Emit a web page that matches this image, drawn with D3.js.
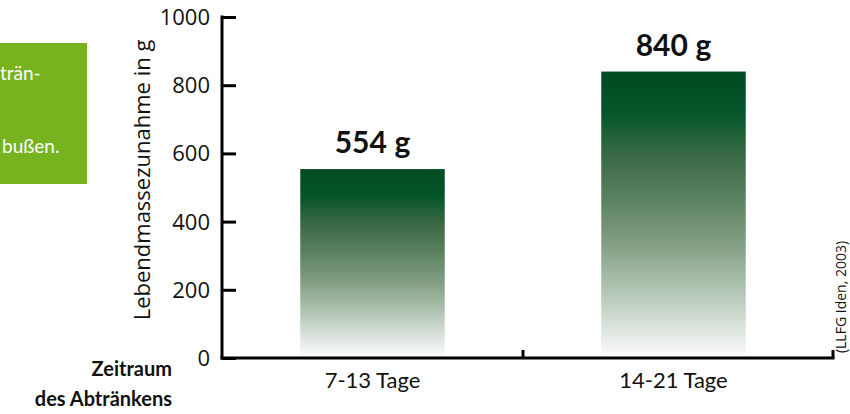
<!DOCTYPE html>
<html>
<head>
<meta charset="utf-8">
<script src="https://cdn.jsdelivr.net/npm/d3@7"></script>
<style>
  html, body { margin: 0; padding: 0; background: #fff; }
  svg { display: block; }
</style>
</head>
<body>
<svg id="chart" width="850" height="414"></svg>
<script>
const categories = ["7-13 Tage", "14-21 Tage"];
const values = [554, 840];
const valueLabels = ["554\u202Fg", "840\u202Fg"];
const yTicks = [0, 200, 400, 600, 800, 1000];
const yTitle = "Lebendmassezunahme in g";
const xTitleLines = ["Zeitraum", "des Abtränkens"];
const sourceText = "(LLFG Iden, 2003)";
const sideBoxLines = ["trän-", "bußen."];

const svg = d3.select("#chart");
const x0 = 222, x1 = 824, axisEnd = 833;
const y = d3.scaleLinear().domain([0, 1000]).range([358, 17]);
const x = d3.scaleBand().domain(categories).range([x0, x1]).paddingInner(0.52).paddingOuter(0.26);

// gradient
const defs = svg.append("defs");
const grad = defs.append("linearGradient").attr("id", "barGrad")
  .attr("x1", 0).attr("y1", 0).attr("x2", 0).attr("y2", 1);
[[0, "#034a22"], [0.14, "#03552a"], [0.3, "#3b6a46"], [0.45, "#5b8260"],
 [0.6, "#809d82"], [0.75, "#abc0ad"], [0.9, "#dae3db"], [1, "#fafbfa"]]
  .forEach(([o, c]) => grad.append("stop").attr("offset", o).attr("stop-color", c));

// green side box
svg.append("rect").attr("x", 0).attr("y", 43).attr("width", 87).attr("height", 141)
  .attr("fill", "#77b21f");
svg.selectAll(".sidetxt").data(sideBoxLines).join("text")
  .attr("x", (d, i) => i === 0 ? 0 : 2)
  .attr("y", (d, i) => [80, 153][i])
  .attr("fill", "#fff")
  .attr("font-family", "Lato, 'Open Sans', sans-serif")
  .attr("font-size", 19)
  .text(d => d);

// bars
svg.selectAll(".bar").data(values).join("rect")
  .attr("x", (d, i) => x(categories[i]))
  .attr("width", x.bandwidth())
  .attr("y", d => y(d))
  .attr("height", d => y(0) - 3 - y(d))
  .attr("fill", "url(#barGrad)");

// value labels
svg.selectAll(".vlab").data(values).join("text")
  .attr("x", (d, i) => x(categories[i]) + x.bandwidth() / 2)
  .attr("y", d => y(d) - 16)
  .attr("text-anchor", "middle")
  .attr("font-family", "Lato, sans-serif")
  .attr("font-weight", "bold")
  .attr("font-size", 30)
  .attr("fill", "#111")
  .text((d, i) => valueLabels[i]);

// y axis
const yAxis = svg.append("g").attr("transform", `translate(${x0},0)`)
  .call(d3.axisRight(y).tickValues(yTicks).tickSize(14).tickFormat(""));
yAxis.select(".domain").remove();
yAxis.selectAll("line").attr("stroke", "#000").attr("stroke-width", 3);
svg.append("line").attr("x1", x0).attr("x2", x0).attr("y1", y(1000) - 1.5).attr("y2", y(0) + 1.5)
  .attr("stroke", "#000").attr("stroke-width", 3);
svg.selectAll(".ylab").data(yTicks).join("text")
  .attr("x", 210).attr("y", d => y(d))
  .attr("dy", "0.36em")
  .attr("text-anchor", "end")
  .attr("font-family", "'Open Sans', sans-serif")
  .attr("font-size", 22)
  .attr("fill", "#111")
  .text(d => d);

// x axis
svg.append("line").attr("x1", x0 - 1.5).attr("x2", axisEnd + 1.5).attr("y1", y(0)).attr("y2", y(0))
  .attr("stroke", "#000").attr("stroke-width", 3);
const xTickPos = [x0 + (x1 - x0) / 2, axisEnd];
svg.selectAll(".xtick").data(xTickPos).join("line")
  .attr("x1", d => d).attr("x2", d => d)
  .attr("y1", y(0)).attr("y2", y(0) - 8)
  .attr("stroke", "#000").attr("stroke-width", 3);
svg.selectAll(".xlab").data(categories).join("text")
  .attr("x", d => x(d) + x.bandwidth() / 2)
  .attr("y", 388)
  .attr("text-anchor", "middle")
  .attr("font-family", "Lato, sans-serif")
  .attr("font-size", 22)
  .attr("fill", "#111")
  .text(d => d);

// y title
svg.append("text")
  .attr("transform", "translate(150,180) rotate(-90)")
  .attr("text-anchor", "middle")
  .attr("font-family", "'Open Sans', sans-serif")
  .attr("font-size", 22)
  .attr("fill", "#111")
  .text(yTitle);

// x title
svg.selectAll(".xt").data(xTitleLines).join("text")
  .attr("x", 172).attr("y", (d, i) => [376, 406][i])
  .attr("text-anchor", "end")
  .attr("font-family", "Lato, sans-serif")
  .attr("font-weight", "bold")
  .attr("font-size", 20)
  .attr("fill", "#111")
  .text(d => d);

// source
svg.append("text")
  .attr("transform", "translate(846,297) rotate(-90)")
  .attr("text-anchor", "middle")
  .attr("font-family", "'Open Sans', sans-serif")
  .attr("font-size", 14)
  .attr("fill", "#111")
  .text(sourceText);
</script>
</body>
</html>
